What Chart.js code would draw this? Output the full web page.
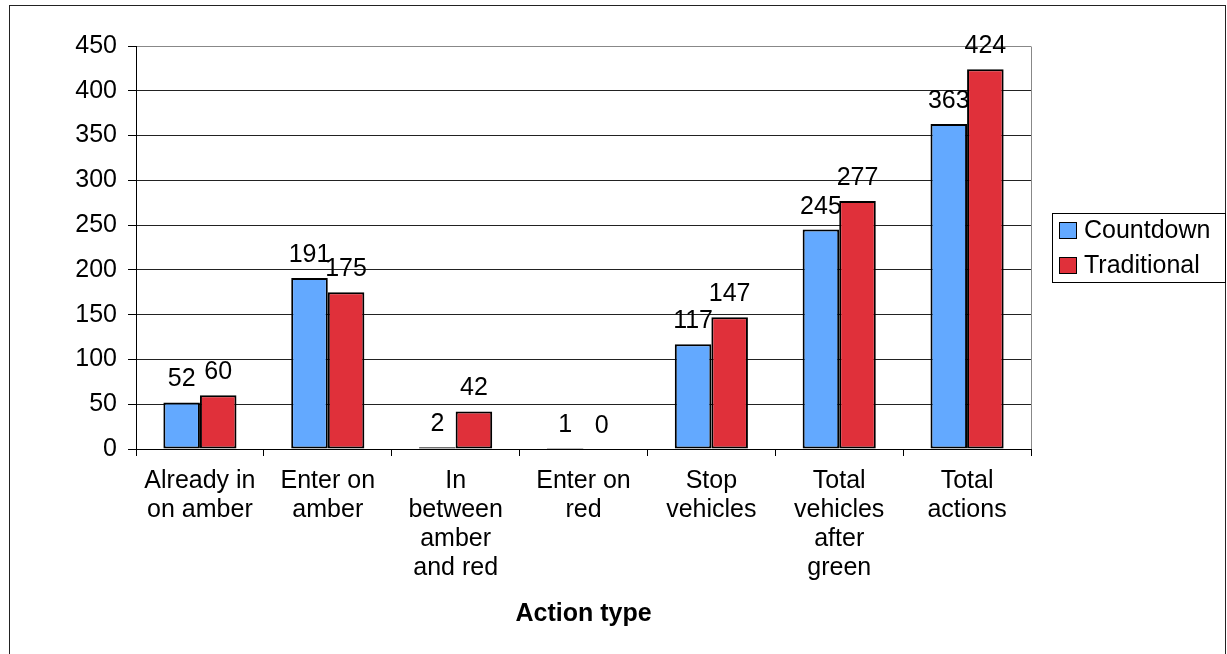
<!DOCTYPE html>
<html>
<head>
<meta charset="utf-8">
<script src="https://cdn.jsdelivr.net/npm/chart.js@4"></script>
<style>
  html, body { margin: 0; padding: 0; background: #fff; }
  #wrap { width: 1227px; height: 654px; }
</style>
</head>
<body>
<div id="wrap"><canvas id="chart" width="1227" height="654"></canvas></div>
<script>
  // data
  var categories = [
    ['Already in', 'on amber'],
    ['Enter on', 'amber'],
    ['In', 'between', 'amber', 'and red'],
    ['Enter on', 'red'],
    ['Stop', 'vehicles'],
    ['Total', 'vehicles', 'after', 'green'],
    ['Total', 'actions']
  ];
  var countdown = [52, 191, 2, 1, 117, 245, 363];
  var traditional = [60, 175, 42, 0, 147, 277, 424];
  var seriesNames = ['Countdown', 'Traditional'];
  var yTicks = [0, 50, 100, 150, 200, 250, 300, 350, 400, 450];

  var FONT = '"Liberation Sans", Arial, sans-serif';

  // value labels above bars
  var valueLabels = {
    id: 'valueLabels',
    afterDatasetsDraw: function (chart) {
      var ctx = chart.ctx;
      ctx.save();
      ctx.font = '25px ' + FONT;
      ctx.fillStyle = '#000';
      ctx.textAlign = 'center';
      ctx.textBaseline = 'alphabetic';
      chart.data.datasets.forEach(function (ds, i) {
        var meta = chart.getDatasetMeta(i);
        meta.data.forEach(function (bar, j) {
          ctx.fillText(String(ds.data[j]), bar.x, bar.y - 16);
        });
      });
      ctx.restore();
    }
  };

  // plot area right border, outer frame and boxed legend
  var frame = {
    id: 'frame',
    beforeDatasetsDraw: function (chart) {
      var ctx = chart.ctx, a = chart.chartArea;
      ctx.save();
      ctx.strokeStyle = '#888';
      ctx.lineWidth = 1;
      ctx.beginPath();
      ctx.moveTo(Math.round(a.right) + 0.5, Math.round(a.top) + 0.5);
      ctx.lineTo(Math.round(a.right) + 0.5, Math.round(a.bottom));
      ctx.stroke();
      ctx.restore();
    },
    afterDraw: function (chart) {
      var ctx = chart.ctx;
      ctx.save();
      ctx.strokeStyle = '#222';
      ctx.lineWidth = 1;
      ctx.strokeRect(9.5, 5.5, 1216, 700);

      // legend
      ctx.strokeStyle = '#000';
      ctx.strokeRect(1052.5, 213.5, 173, 69);
      ctx.font = '25px ' + FONT;
      ctx.textAlign = 'left';
      ctx.textBaseline = 'middle';
      chart.data.datasets.forEach(function (ds, i) {
        var cy = 230 + i * 35;
        ctx.fillStyle = ds.backgroundColor;
        ctx.fillRect(1059, cy - 8, 18, 17);
        ctx.strokeStyle = '#000';
        ctx.strokeRect(1059.5, cy - 7.5, 17, 16);
        ctx.fillStyle = '#000';
        ctx.fillText(ds.label, 1084, cy + 1);
      });
      ctx.restore();
    }
  };

  new Chart(document.getElementById('chart').getContext('2d'), {
    type: 'bar',
    data: {
      labels: categories,
      datasets: [
        {
          label: seriesNames[0],
          data: countdown,
          backgroundColor: '#63A9FF',
          borderColor: '#000',
          borderWidth: 2,
          borderSkipped: false
        },
        {
          label: seriesNames[1],
          data: traditional,
          backgroundColor: '#E0303A',
          borderColor: '#000',
          borderWidth: 2,
          borderSkipped: false
        }
      ]
    },
    options: {
      responsive: false,
      animation: false,
      devicePixelRatio: 1,
      layout: { padding: { left: 0, top: 46, right: 196, bottom: 25 } },
      datasets: { bar: { categoryPercentage: 0.572, barPercentage: 1 } },
      plugins: {
        legend: { display: false },
        tooltip: { enabled: false },
        title: { display: false }
      },
      scales: {
        x: {
          afterFit: function (scale) { scale.height = 180; },
          grid: {
            offset: true,
            drawOnChartArea: false,
            drawTicks: true,
            tickLength: 7,
            tickColor: '#000'
          },
          border: { display: true, color: '#000', width: 1 },
          ticks: {
            color: '#000',
            padding: 11,
            maxRotation: 0,
            autoSkip: false,
            font: { family: FONT, size: 25, lineHeight: '29px' }
          },
          title: {
            display: true,
            text: 'Action type',
            color: '#000',
            padding: 0,
            font: { family: FONT, size: 25, weight: 'bold', lineHeight: '30px' }
          }
        },
        y: {
          min: 0,
          max: 450,
          afterFit: function (scale) { scale.width = 136; },
          afterBuildTicks: function (scale) {
            scale.ticks = yTicks.map(function (v) { return { value: v }; });
          },
          grid: {
            color: function (c) { return c.tick && c.tick.value === 450 ? '#888' : '#222'; },
            tickColor: '#000',
            tickLength: 8,
            lineWidth: 1
          },
          border: { display: true, color: '#000', width: 1 },
          ticks: {
            color: '#000',
            padding: 11,
            font: { family: FONT, size: 25 }
          }
        }
      }
    },
    plugins: [valueLabels, frame]
  });
</script>
</body>
</html>
